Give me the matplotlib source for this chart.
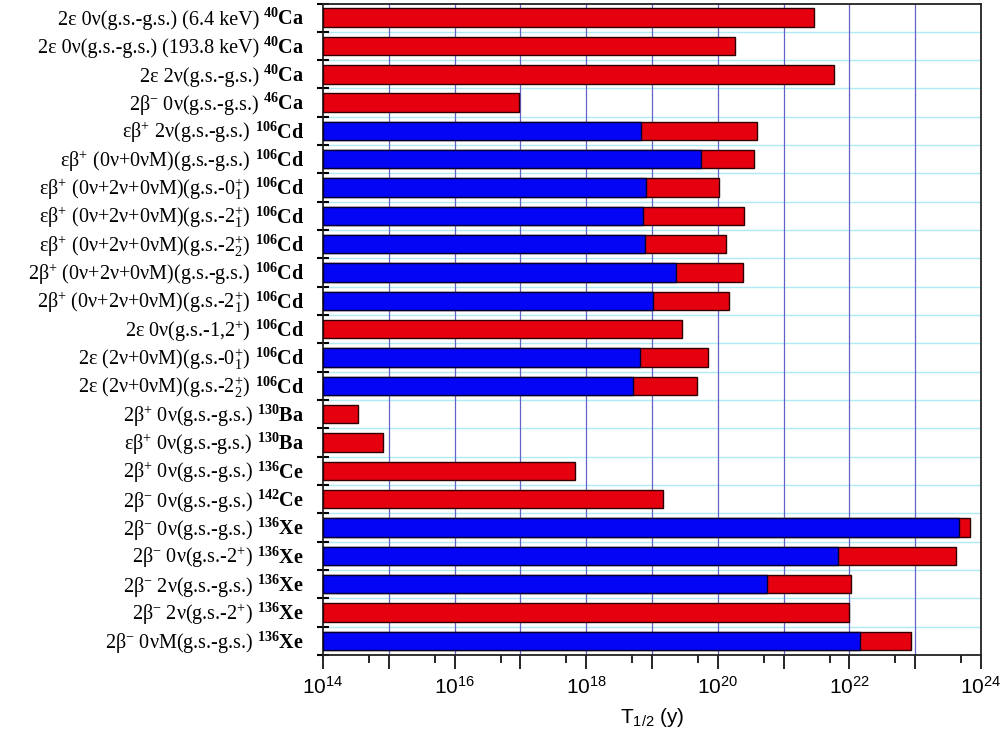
import numpy as np
import matplotlib
matplotlib.use("Agg")
import matplotlib.pyplot as plt
from matplotlib import transforms
from matplotlib.ticker import FixedLocator, FuncFormatter

plt.rcParams['mathtext.fontset'] = 'custom'
plt.rcParams['mathtext.rm'] = 'Liberation Serif'
plt.rcParams['mathtext.it'] = 'Liberation Serif:italic'
plt.rcParams['mathtext.bf'] = 'Liberation Serif:bold'
plt.rcParams['mathtext.sf'] = 'Liberation Sans'

# ---------------- data ----------------
processes = [
    "2ε 0ν(g.s.-g.s.) (6.4 keV)",
    "2ε 0ν(g.s.-g.s.) (193.8 keV)",
    "2ε 2ν(g.s.-g.s.)",
    "2β$^{-}$ 0ν(g.s.-g.s.)",
    "εβ$^{+}$ 2ν(g.s.-g.s.)",
    "εβ$^{+}$ (0ν+0νM)(g.s.-g.s.)",
    "εβ$^{+}$ (0ν+2ν+0νM)(g.s.-0$_{1}^{+}$)",
    "εβ$^{+}$ (0ν+2ν+0νM)(g.s.-2$_{1}^{+}$)",
    "εβ$^{+}$ (0ν+2ν+0νM)(g.s.-2$_{2}^{+}$)",
    "2β$^{+}$ (0ν+2ν+0νM)(g.s.-g.s.)",
    "2β$^{+}$ (0ν+2ν+0νM)(g.s.-2$_{1}^{+}$)",
    "2ε 0ν(g.s.-1,2$^{+}$)",
    "2ε (2ν+0νM)(g.s.-0$_{1}^{+}$)",
    "2ε (2ν+0νM)(g.s.-2$_{2}^{+}$)",
    "2β$^{+}$ 0ν(g.s.-g.s.)",
    "εβ$^{+}$ 0ν(g.s.-g.s.)",
    "2β$^{+}$ 0ν(g.s.-g.s.)",
    "2β$^{-}$ 0ν(g.s.-g.s.)",
    "2β$^{-}$ 0ν(g.s.-g.s.)",
    "2β$^{-}$ 0ν(g.s.-2$^{+}$)",
    "2β$^{-}$ 2ν(g.s.-g.s.)",
    "2β$^{-}$ 2ν(g.s.-2$^{+}$)",
    "2β$^{-}$ 0νM(g.s.-g.s.)",
]
mass_numbers = ["40", "40", "40", "46", "106", "106", "106", "106", "106", "106",
                "106", "106", "106", "106", "130", "130", "136", "142",
                "136", "136", "136", "136", "136"]
elements = ["Ca", "Ca", "Ca", "Ca", "Cd", "Cd", "Cd", "Cd", "Cd", "Cd",
            "Cd", "Cd", "Cd", "Cd", "Ba", "Ba", "Ce", "Ce",
            "Xe", "Xe", "Xe", "Xe", "Xe"]
# red bars (T1/2 limits, years)
red_values = [2.9e21, 1.8e20, 5.9e21, 9.5e16, 4.0e20, 3.6e20, 1.05e20, 2.5e20,
              1.35e20, 2.4e20, 1.5e20, 2.9e19, 7.2e19, 4.9e19, 3.4e14, 8.1e14,
              6.8e17, 1.45e19, 6.9e23, 4.1e23, 1.07e22, 1.0e22, 8.5e22]
# blue bars (None = no blue bar)
blue_values = [None, None, None, None, 6.9e18, 5.6e19, 8.1e18, 7.4e18,
               7.9e18, 2.3e19, 1.05e19, None, 6.5e18, 5.1e18, None, None,
               None, None, 4.6e23, 6.6e21, 5.6e20, None, 1.45e22]

x_min, x_max = 1e14, 1e24

# ---------------- figure ----------------
W, H = 1005, 733
fig = plt.figure(figsize=(W / 100, H / 100), dpi=100)
ax = fig.add_axes([323 / W, 1 - 655 / H, (981 - 323) / W, (655 - 3.5) / H])

n = len(processes)
y = np.arange(n)
red_c = '#e6000f'
blue_c = '#0505f5'
bh = 0.65

ax.barh(y, np.array(red_values) - x_min, left=x_min, height=bh, color=red_c,
        edgecolor='#300000', linewidth=1.0, zorder=3)
bi = [i for i, v in enumerate(blue_values) if v is not None]
bv = np.array([blue_values[i] for i in bi])
ax.barh(np.array(bi), bv - x_min, left=x_min, height=bh, color=blue_c,
        edgecolor='#000030', linewidth=1.0, zorder=4)

ax.set_xscale('log')
ax.set_xlim(x_min, x_max)
ax.set_ylim(n - 0.5, -0.5)

# grid
for k in range(n - 1):
    ax.axhline(k + 0.5, color='#b0eaf4', lw=1.0, zorder=1)
for e in range(15, 24):
    ax.axvline(10.0 ** e, color='#6464c8', lw=0.9, zorder=1)

# ticks
decades = [10.0 ** e for e in range(14, 25)]
ax.xaxis.set_major_locator(FixedLocator(decades))
ax.xaxis.set_minor_locator(FixedLocator([5 * 10.0 ** e for e in range(14, 24)]))


def fmt(v, pos):
    e = int(round(np.log10(v)))
    if e % 2 == 0:
        return r"$\mathsf{10^{%d}}$" % e
    return ""


ax.xaxis.set_major_formatter(FuncFormatter(fmt))
ax.xaxis.set_minor_formatter(FuncFormatter(lambda v, p: ""))
ax.tick_params(axis='x', which='major', direction='out', length=10, width=1.2,
               labelsize=15, pad=5, top=False)
ax.tick_params(axis='x', which='minor', direction='out', length=6, width=1.2, top=False)
ax.set_yticks(np.arange(n + 1) - 0.5)
ax.set_yticklabels([])
ax.tick_params(axis='y', which='major', direction='inout', length=9, width=1.5, right=False)
for lab in ax.get_xticklabels():
    lab.set_fontfamily('Liberation Sans')
for s in ax.spines.values():
    s.set_linewidth(1.3)
    s.set_color('#222222')

ax.set_xlabel(r"$\mathsf{T_{1/2}}$ (y)", fontsize=15, family='Liberation Sans', labelpad=6)

# y labels: isotope column right-aligned, process text to its left
base = transforms.blended_transform_factory(fig.transFigure, ax.transData)
off = transforms.ScaledTranslation(0, -7.5 / 100, fig.dpi_scale_trans)
iso_texts = []
for i in range(n):
    t = fig.text(304 / W, y[i], r"$^{\mathbf{%s}}\mathbf{%s}$" % (mass_numbers[i], elements[i]),
                 transform=base + off, ha='right', va='baseline', fontsize=14.5)
    iso_texts.append(t)
fig.canvas.draw()
renderer = fig.canvas.get_renderer()
for i in range(n):
    bb = iso_texts[i].get_window_extent(renderer)
    xf = (bb.x0 - 4) / W
    fig.text(xf, y[i], processes[i], transform=base + off, ha='right', va='baseline',
             fontsize=14.5, family='Liberation Serif')

fig.savefig('out.png', dpi=100)
